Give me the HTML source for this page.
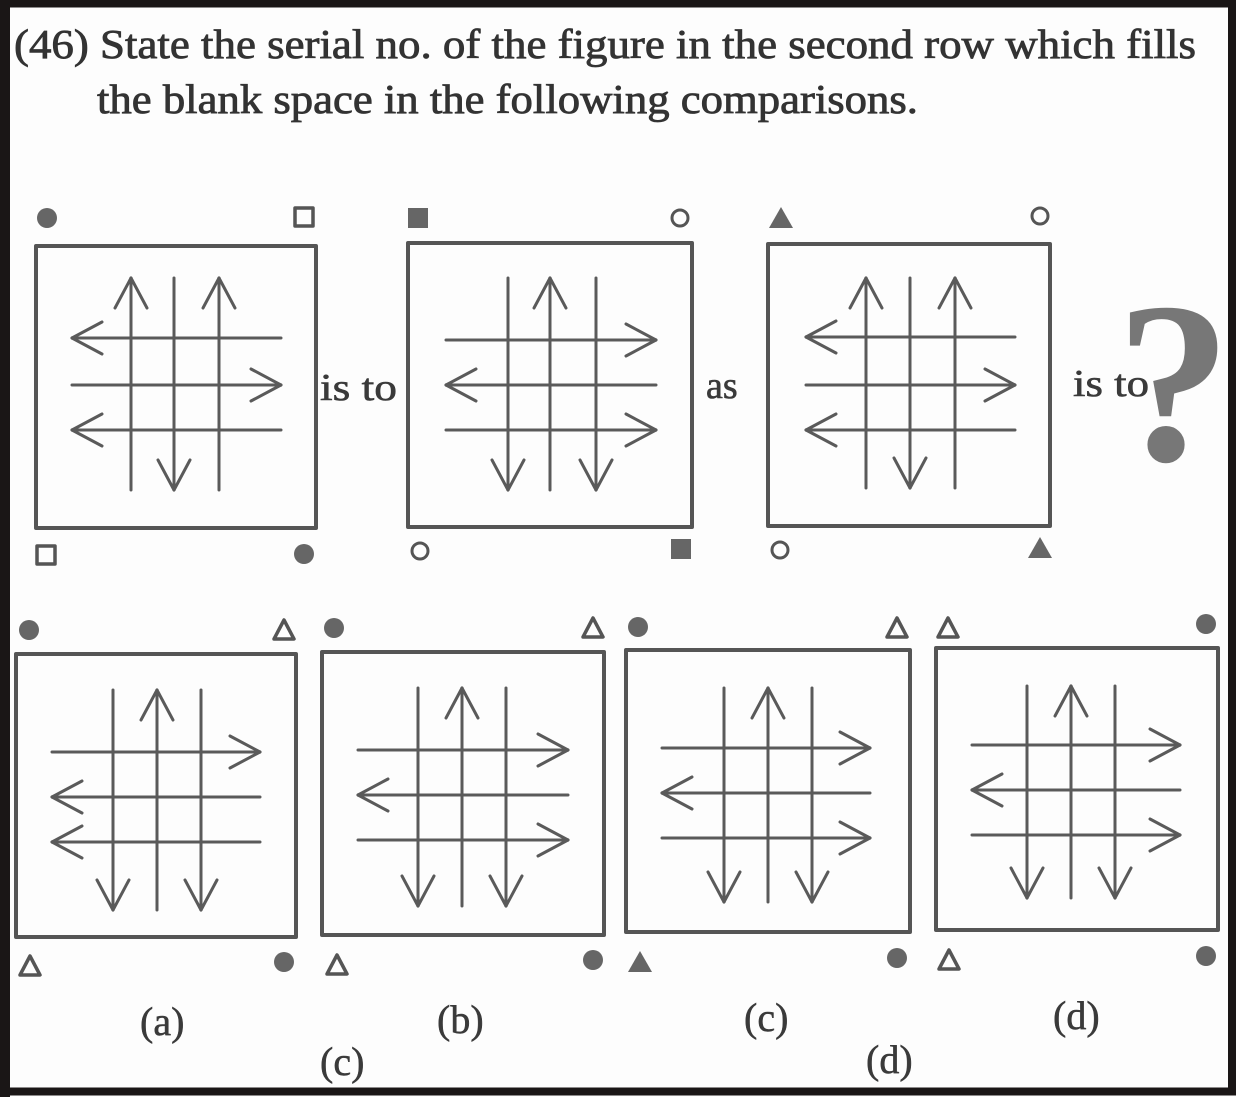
<!DOCTYPE html>
<html><head><meta charset="utf-8"><style>
html,body{margin:0;padding:0;background:#fff}
svg{display:block}
text{font-family:"Liberation Serif",serif;fill:#3a3a3a}
</style></head><body>
<svg id="s" width="1236" height="1097" viewBox="0 0 1236 1097" xmlns="http://www.w3.org/2000/svg">
<rect x="0" y="0" width="1236" height="1097" fill="#fdfdfd"/>
<rect x="5" y="3.5" width="1227" height="1088" fill="none" stroke="#1a1616" stroke-width="8"/>
<rect x="0" y="0" width="10" height="1097" fill="#1a1616"/>
<text x="14" y="58" font-size="41" style="fill:#333" stroke="#333" stroke-width="0.8" textLength="1182" lengthAdjust="spacingAndGlyphs">(46) State the serial no. of the figure in the second row which fills</text>
<text x="97" y="113" font-size="41" style="fill:#333" stroke="#333" stroke-width="0.8" textLength="821" lengthAdjust="spacingAndGlyphs">the blank space in the following comparisons.</text>
<text x="320" y="400" font-size="38" stroke="#3a3a3a" stroke-width="0.6" textLength="77" lengthAdjust="spacingAndGlyphs">is to</text>
<text x="706" y="398" font-size="38" stroke="#3a3a3a" stroke-width="0.6">as</text>
<text x="1073" y="396" font-size="38" stroke="#3a3a3a" stroke-width="0.6" textLength="76" lengthAdjust="spacingAndGlyphs">is to</text>
<text x="1116" y="460" font-size="230" style="fill:#777" font-weight="bold">?</text>
<text x="140" y="1035" font-size="40" stroke="#3a3a3a" stroke-width="0.5">(a)</text>
<text x="437" y="1033" font-size="40" stroke="#3a3a3a" stroke-width="0.5">(b)</text>
<text x="744" y="1031" font-size="40" stroke="#3a3a3a" stroke-width="0.5">(c)</text>
<text x="1053" y="1029" font-size="40" stroke="#3a3a3a" stroke-width="0.5">(d)</text>
<text x="320" y="1075" font-size="40" stroke="#3a3a3a" stroke-width="0.5">(c)</text>
<text x="866" y="1073" font-size="40" stroke="#3a3a3a" stroke-width="0.5">(d)</text>
<g id="g" stroke="#5a5a5a" fill="none" stroke-width="3" stroke-linecap="round" stroke-linejoin="round"></g>
</svg>
<script>
var g=document.getElementById('g'),NS='http://www.w3.org/2000/svg';
function el(t,a){var e=document.createElementNS(NS,t);for(var k in a)e.setAttribute(k,a[k]);g.appendChild(e);return e;}
function L(x1,y1,x2,y2){el('line',{x1:x1,y1:y1,x2:x2,y2:y2});}
var H=30,W=16;
function fig(bx,by,bx2,by2,vx,vy1,vy2,vd,hy,hx1,hx2,hd){
 el('rect',{x:bx,y:by,width:bx2-bx,height:by2-by,'stroke-width':4,stroke:'#555'});
 for(var i=0;i<3;i++){var x=vx[i];L(x,vy1,x,vy2);
  if(vd[i]=='u'){L(x-W,vy1+H,x,vy1);L(x,vy1,x+W,vy1+H);}
  else if(vd[i]=='d'){L(x-W,vy2-H,x,vy2);L(x,vy2,x+W,vy2-H);}}
 for(var i=0;i<3;i++){var y=hy[i];L(hx1,y,hx2,y);
  if(hd[i]=='l'){L(hx1+H,y-W,hx1,y);L(hx1,y,hx1+H,y+W);}
  else {L(hx2-H,y-W,hx2,y);L(hx2,y,hx2-H,y+W);}}
}
function sh(t,x,y){
 var f='#666';
 if(t=='C')el('circle',{cx:x,cy:y,r:10,fill:f,stroke:'none'});
 if(t=='c')el('circle',{cx:x,cy:y,r:8,'stroke-width':3,stroke:'#555'});
 if(t=='S')el('rect',{x:x-10,y:y-10,width:20,height:20,fill:f,stroke:'none'});
 if(t=='s')el('rect',{x:x-9,y:y-9,width:18,height:18,'stroke-width':3.5,stroke:'#555'});
 if(t=='T')el('polygon',{points:(x-12)+','+(y+10)+' '+x+','+(y-11)+' '+(x+12)+','+(y+10),fill:f,stroke:'none'});
 if(t=='t')el('polygon',{points:(x-10)+','+(y+9)+' '+x+','+(y-10)+' '+(x+10)+','+(y+9),'stroke-width':3.5,stroke:'#555'});
}
fig(36,246,316,528,[131,174,219],278,490,'udu',[338,385,430],72,281,'lrl');
sh('C',47,218);sh('s',304,217);sh('s',46,555);sh('C',304,554);
fig(408,243,692,527,[508,550,596],278,490,'dud',[340,385,430],446,656,'rlr');
sh('S',418,218);sh('c',680,218);sh('c',420,551);sh('S',681,549);
fig(768,244,1050,526,[866,910,955],278,488,'udu',[337,385,430],806,1015,'lrl');
sh('T',781,218);sh('c',1040,216);sh('c',780,550);sh('T',1040,548);
fig(16,654,296,937,[113,157,201],690,910,'dud',[752,797,842],52,260,'rll');
sh('C',29,630);sh('t',284,630);sh('t',30,966);sh('C',284,962);
fig(322,652,604,935,[418,462,506],688,906,'dud',[750,795,840],358,568,'rlr');
sh('C',334,628);sh('t',593,628);sh('t',337,965);sh('C',593,960);
fig(626,650,910,932,[724,768,812],688,902,'dud',[748,793,838],662,870,'rlr');
sh('C',638,627);sh('t',897,628);sh('T',640,962);sh('C',897,958);
fig(936,648,1218,930,[1027,1071,1115],686,898,'dud',[745,790,835],972,1180,'rlr');
sh('t',948,628);sh('C',1206,624);sh('t',949,960);sh('C',1206,956);
</script>
</body></html>
